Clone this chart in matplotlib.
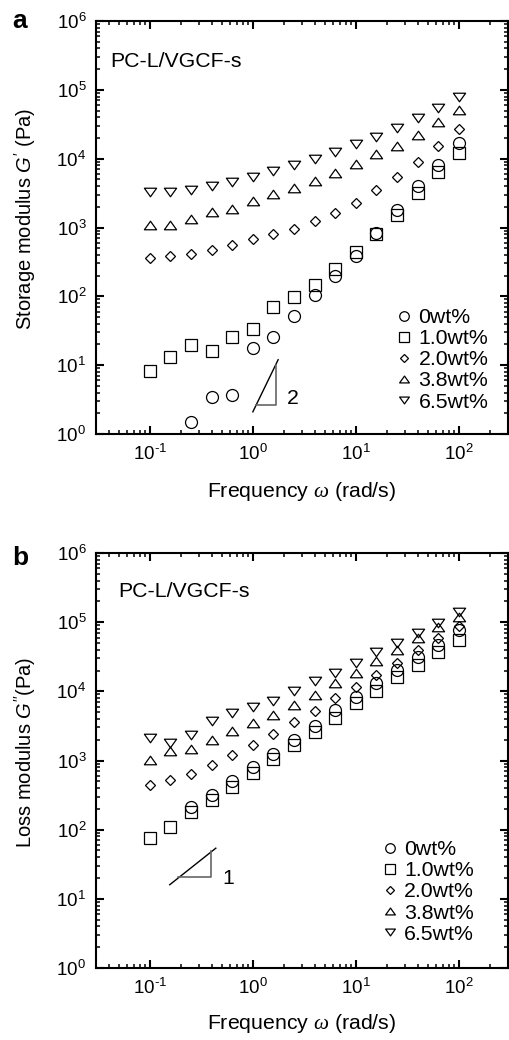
import matplotlib
matplotlib.use("Agg")
import matplotlib.pyplot as plt
import numpy as np
from matplotlib.ticker import LogLocator, NullFormatter, FuncFormatter, FixedLocator
from matplotlib.path import Path

plt.rcParams['font.family'] = ['Liberation Sans', 'DejaVu Sans']
plt.rcParams['mathtext.fontset'] = 'custom'
plt.rcParams['mathtext.rm'] = 'Liberation Sans'
plt.rcParams['mathtext.it'] = 'Liberation Sans:italic'
plt.rcParams['mathtext.cal'] = 'Liberation Serif:italic'

# ---------------- data ----------------
freq = [0.1, 0.158, 0.251, 0.398, 0.631, 1.0, 1.58, 2.51, 3.98, 6.31,
        10.0, 15.8, 25.1, 39.8, 63.1, 100.0]
freq_0 = freq[2:]

labels = ['0wt%', '1.0wt%', '2.0wt%', '3.8wt%', '6.5wt%']

x_major = [0.1, 1, 10, 100]
y_major = [1, 10, 100, 1e3, 1e4, 1e5, 1e6]

# Storage modulus G' (Pa)
Gp_0 = [1.48, 3.5, 3.7, 17.7, 26, 51, 105, 200, 390, 830, 1780, 4000, 8100, 17000]
Gp_10 = [8.1, 13, 19.5, 16.3, 25.6, 34, 69, 98, 145, 253, 440, 800, 1540, 3200, 6300, 12000]
Gp_20 = [363, 380, 407, 479, 550, 676, 794, 955, 1230, 1620, 2290, 3470, 5370, 8910, 15500, 26900]
Gp_38 = [1100, 1100, 1320, 1660, 1860, 2400, 3020, 3720, 4790, 6170, 8320, 11500, 15500, 22400, 33900, 51300]
Gp_65 = [3240, 3310, 3470, 4070, 4570, 5370, 6610, 8130, 10000, 12300, 16200, 20900, 28200, 38900, 53700, 77600]

# Loss modulus G'' (Pa)
Gpp_0 = [213, 320, 500, 810, 1260, 2000, 3200, 5300, 8300, 13000, 20500, 31000, 47000, 78000]
Gpp_10 = [77, 109, 180, 266, 415, 650, 1060, 1670, 2600, 4100, 6700, 10000, 15900, 24000, 37000, 56000]
Gpp_20 = [440, 525, 630, 870, 1200, 1660, 2400, 3560, 5200, 7900, 11700, 17300, 26000, 40000, 59000, 87000]
Gpp_38 = [1020, 1350, 1480, 1950, 2700, 3450, 4600, 6400, 8900, 13100, 18400, 27000, 40000, 59000, 85000, 117000]
Gpp_65 = [2100, 1780, 2350, 3700, 4900, 5900, 7300, 10200, 14000, 18600, 26000, 36500, 50000, 70000, 97000, 138000]

# slope guide triangles (data coords)
tri_a_hyp_x = [1.0, 1.76]
tri_a_hyp_y = [2.1, 12.0]
tri_a_leg_x = [1.08, 1.67, 1.67]
tri_a_leg_y = [2.6, 2.6, 10.0]
tri_b_hyp_x = [0.156, 0.437]
tri_b_hyp_y = [16.0, 54.0]
tri_b_leg_x = [0.188, 0.388, 0.388]
tri_b_leg_y = [20.4, 20.4, 48.5]

# ---------------- figure ----------------
fig = plt.figure(figsize=(5.09, 10.40), dpi=100)
W, H = 509, 1040
ax_a = fig.add_axes([96 / W, 1 - 434 / H, 412 / W, 413 / H])
ax_b = fig.add_axes([96 / W, 1 - 968 / H, 412 / W, 415 / H])

up_tri = Path([(-1, -0.7), (1, -0.7), (0, 0.7), (-1, -0.7)],
              [Path.MOVETO, Path.LINETO, Path.LINETO, Path.CLOSEPOLY])
dn_tri = Path([(-1, 0.7), (1, 0.7), (0, -0.7), (-1, 0.7)],
              [Path.MOVETO, Path.LINETO, Path.LINETO, Path.CLOSEPOLY])
styles = [
    dict(marker='o', ms=8.6),
    dict(marker='s', ms=8.6),
    dict(marker='D', ms=5.2),
    dict(marker=up_tri, ms=8.8),
    dict(marker=dn_tri, ms=8.8),
]

FS = 15.3


def log_fmt(v, pos):
    e = int(round(np.log10(v)))
    s = str(e).replace('-', '\u2010')
    return r'$\mathdefault{10^{%s}}$' % s


def style_axes(ax):
    ax.set_xscale('log')
    ax.set_yscale('log')
    ax.set_xlim(0.03, 300)
    ax.set_ylim(1, 1e6)
    for s in ax.spines.values():
        s.set_linewidth(1.5)
    ax.xaxis.set_major_locator(FixedLocator(x_major))
    ax.yaxis.set_major_locator(FixedLocator(y_major))
    ax.xaxis.set_minor_locator(LogLocator(base=10, subs=np.arange(2, 10), numticks=20))
    ax.yaxis.set_minor_locator(LogLocator(base=10, subs=np.arange(2, 10), numticks=20))
    ax.xaxis.set_major_formatter(FuncFormatter(log_fmt))
    ax.yaxis.set_major_formatter(FuncFormatter(log_fmt))
    ax.xaxis.set_minor_formatter(NullFormatter())
    ax.yaxis.set_minor_formatter(NullFormatter())
    ax.tick_params(which='both', direction='in', top=True, right=True,
                   labelsize=13.5, colors='black')
    ax.tick_params(which='major', length=5.5, width=1.5, pad=7)
    ax.tick_params(which='minor', length=3, width=1.1)
    ax.set_xlabel(r'Frequency $\mathcal{\omega}$ (rad/s)', fontsize=FS)


def plot_series(ax, series, x0, y0):
    for (x, y), st, lab in zip(series, styles, labels):
        ax.plot(x, y, linestyle='none', mfc='none', mec='black', mew=0.9,
                label=lab, **st)
    ax.legend(loc='upper left', bbox_to_anchor=(x0, y0), frameon=False,
              fontsize=FS, markerscale=0.8, handlelength=0.8,
              handletextpad=0.26, labelspacing=0.1, borderpad=0,
              borderaxespad=0)


# panel a
plot_series(ax_a, [(freq_0, Gp_0), (freq, Gp_10), (freq, Gp_20),
                   (freq, Gp_38), (freq, Gp_65)], 0.728, 0.305)
style_axes(ax_a)
ax_a.set_ylabel(r"Storage modulus $G'$ (Pa)", fontsize=14.5)
ax_a.yaxis.set_label_coords(-0.14, 0.52)
ax_a.xaxis.set_label_coords(0.5, -0.111)
ax_a.plot(tri_a_hyp_x, tri_a_hyp_y, color='black', lw=1.0)
ax_a.plot(tri_a_leg_x, tri_a_leg_y, color='#666666', lw=1.2)
ax_a.text(2.45, 3.3, '2', fontsize=FS, va='center', ha='center')
ax_a.text(0.0409, 10**5.41, 'PC-L/VGCF-s', fontsize=FS, va='center', ha='left')
fig.text(12 / W, 1 - 28 / H, 'a', fontsize=19, fontweight='bold',
         va='baseline', ha='left')

# panel b
plot_series(ax_b, [(freq_0, Gpp_0), (freq, Gpp_10), (freq, Gpp_20),
                   (freq, Gpp_38), (freq, Gpp_65)], 0.693, 0.308)
style_axes(ax_b)
ax_b.set_ylabel(r"Loss modulus $G''$(Pa)", fontsize=14.5)
ax_b.yaxis.set_label_coords(-0.14, 0.52)
ax_b.xaxis.set_label_coords(0.5, -0.107)
ax_b.plot(tri_b_hyp_x, tri_b_hyp_y, color='black', lw=1.0)
ax_b.plot(tri_b_leg_x, tri_b_leg_y, color='#666666', lw=1.2)
ax_b.text(0.574, 20, '1', fontsize=FS, va='center', ha='center')
ax_b.text(0.0489, 10**5.44, 'PC-L/VGCF-s', fontsize=FS, va='center', ha='left')
fig.text(12 / W, 1 - 565 / H, 'b', fontsize=19, fontweight='bold',
         va='baseline', ha='left')

fig.savefig('out.png', dpi=100)
